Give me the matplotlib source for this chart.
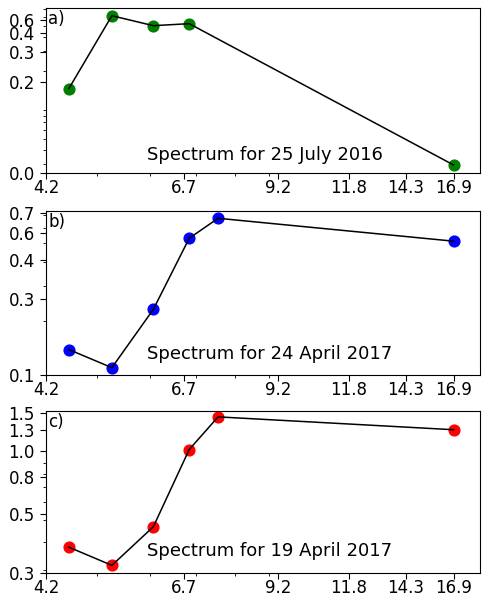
import numpy as np
import matplotlib
matplotlib.use("Agg")
import matplotlib.pyplot as plt
from matplotlib.ticker import NullFormatter

# x positions (same for every panel)
freq_a = [4.54, 5.26, 6.06, 6.85, 16.9]
freq_bc = [4.54, 5.26, 6.06, 6.85, 7.56, 16.9]

spec_a = [0.139, 0.615, 0.502, 0.523, 0.0294]
spec_b = [0.142, 0.1145, 0.2285, 0.531, 0.673, 0.513]
spec_c = [0.378, 0.3135, 0.466, 1.03, 1.44, 1.262]

x_ticks = np.linspace(4.2, 16.9, 6)
x_labels = ["4.2", "6.7", "9.2", "11.8", "14.3", "16.9"]

ya_ticks = [0.025, 0.16, 0.295, 0.43, 0.565]
ya_labels = ["0.0", "0.2", "0.3", "0.4", "0.6"]
yb_ticks = [0.105, 0.258, 0.411, 0.564, 0.717]
yb_labels = ["0.1", "0.3", "0.4", "0.6", "0.7"]
yc_ticks = [0.29, 0.532, 0.774, 1.016, 1.258, 1.5]
yc_labels = ["0.3", "0.5", "0.8", "1.0", "1.3", "1.5"]

panels = [
    ("a)", freq_a, spec_a, "green", ya_ticks, ya_labels, (0.025, 0.72),
     "Spectrum for 25 July 2016", 0.11),
    ("b)", freq_bc, spec_b, "blue", yb_ticks, yb_labels, (0.105, 0.734),
     "Spectrum for 24 April 2017", 0.128),
    ("c)", freq_bc, spec_c, "red", yc_ticks, yc_labels, (0.29, 1.53),
     "Spectrum for 19 April 2017", 0.134),
]

# axes boxes in figure fractions
boxes = [
    [0.095, 0.7112, 0.897, 0.2755],
    [0.095, 0.374, 0.897, 0.2738],
    [0.095, 0.0435, 0.897, 0.2704],
]

fig = plt.figure(figsize=(4.84, 5.99), dpi=100)

for box, (tag, x, y, color, yt, yl, ylim, title, ty) in zip(boxes, panels):
    ax = fig.add_axes(box)
    ax.scatter(x, y, s=60, color=color, zorder=1)
    ax.plot(x, y, color="black", linewidth=1.1, zorder=2)

    ax.set_xscale("log")
    ax.set_yscale("log")
    ax.set_xlim(4.2, 18.5)
    ax.set_ylim(*ylim)

    ax.set_xticks(x_ticks, x_labels)
    ax.set_yticks(yt, yl)
    ax.xaxis.set_minor_formatter(NullFormatter())
    ax.yaxis.set_minor_formatter(NullFormatter())
    ax.tick_params(which="major", labelsize=12, length=4.5)
    ax.tick_params(axis="x", which="major", length=4, pad=0.5)
    ax.tick_params(which="minor", length=2)

    ax.text(0.005, 0.99, tag, transform=ax.transAxes, fontsize=12,
            ha="left", va="top")
    ax.text(0.232, ty, title, transform=ax.transAxes, fontsize=13,
            ha="left", va="center")

plt.savefig("out.png", dpi=100)
plt.close()
